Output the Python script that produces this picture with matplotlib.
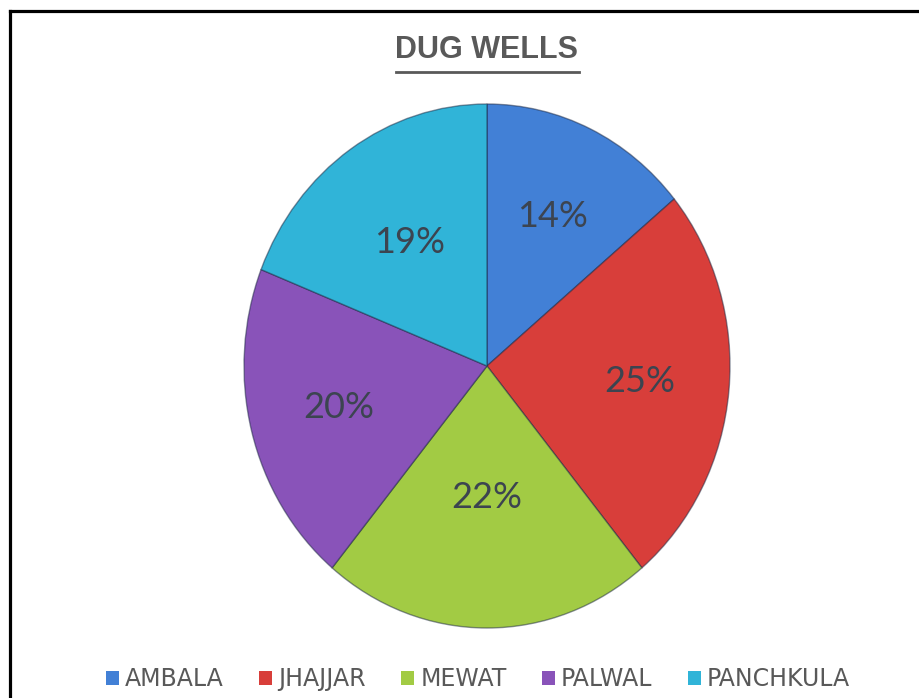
import matplotlib
matplotlib.use('Agg')
import matplotlib.pyplot as plt
from matplotlib.patches import Patch
from matplotlib.lines import Line2D
import numpy as np

# datos del gráfico
districts = ['AMBALA', 'JHAJJAR', 'MEWAT', 'PALWAL', 'PANCHKULA']
shares = [14, 25, 22, 20, 19]
colors = ['#4280d6', '#d83e3a', '#a2cb44', '#8953b9', '#30b4d8']
# distancia radial de cada etiqueta de porcentaje (como la coloca Excel)
label_dist = [0.63, 0.63, 0.50, 0.63, 0.57]

W, H = 920, 698
fig = plt.figure(figsize=(W / 100, H / 100), dpi=100)

# ejes de la tarta: centro en (487, 366) px, radios 243 x 262 px (tarta algo ovalada)
cx, cy, rx, ry = 487, 366, 243, 262
ax = fig.add_axes([0, 0, 1, 1])
wedges, _, pcts = ax.pie(shares, colors=colors, startangle=90, counterclock=False,
                         autopct='%d%%', pctdistance=0.6,
                         wedgeprops=dict(edgecolor=(0.1, 0.15, 0.25, 0.5), linewidth=1),
                         textprops=dict(fontsize=26, color='#3c4450', family='Lato'))
# recolocar cada etiqueta a su distancia
for w, t, d in zip(wedges, pcts, label_dist):
    ang = np.deg2rad((w.theta1 + w.theta2) / 2)
    t.set_position((d * np.cos(ang), d * np.sin(ang)))
ax.set_aspect('auto')
ax.set_xlim(-cx / rx, (W - cx) / rx)
ax.set_ylim(-(H - cy) / ry, cy / ry)
ax.axis('off')

# título subrayado
title = fig.text(cx / W, 1 - 50 / H, 'DUG WELLS', ha='center', va='center',
                 fontsize=22, fontweight='bold', color='#595959',
                 family=['Liberation Sans', 'DejaVu Sans'])
fig.canvas.draw()
bb = title.get_window_extent().transformed(fig.transFigure.inverted())
fig.add_artist(Line2D([bb.x0, bb.x1], [1 - 71.5 / H] * 2, transform=fig.transFigure,
                      color='#595959', linewidth=2))

# leyenda inferior
handles = [Patch(facecolor=c, edgecolor='none') for c in colors]
fig.legend(handles, districts, loc='center', bbox_to_anchor=(478 / W, 19 / H),
           ncol=5, frameon=False, labelcolor='#595959',
           handlelength=0.55, handleheight=0.55, handletextpad=0.25,
           columnspacing=1.5, prop=dict(family='DejaVu Sans', size=17))

# marco (solo se ven los bordes izquierdo y superior)
fig.add_artist(Line2D([10 / W, 10 / W], [0, 1 - 11 / H], transform=fig.transFigure,
                      color='black', linewidth=2.3, solid_capstyle='projecting'))
fig.add_artist(Line2D([10 / W, 1], [1 - 11 / H] * 2, transform=fig.transFigure,
                      color='black', linewidth=2.3, solid_capstyle='projecting'))

fig.savefig('out.png', dpi=100, facecolor='white')
plt.close(fig)
